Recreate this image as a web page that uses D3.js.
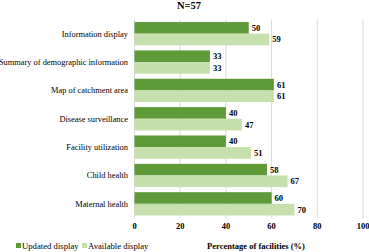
<!DOCTYPE html>
<html>
<head>
<meta charset="utf-8">
<script src="https://cdn.jsdelivr.net/npm/d3@7"></script>
<style>
  body { margin: 0; background: #fff; }
  text { font-family: "Liberation Serif", "Times New Roman", serif; fill: #000; }
</style>
</head>
<body>
<div id="chart"></div>
<script>
// data
const categories = ["Information display", "Summary of demographic information", "Map of catchment area",
  "Disease surveillance", "Facility utilization", "Child health", "Maternal health"];
const updated = [50, 33, 61, 40, 40, 58, 60];
const available = [59, 33, 61, 47, 51, 67, 70];
const seriesNames = ["Updated display", "Available display"];
const xTicks = [0, 20, 40, 60, 80, 100];

const width = 369, height = 252;
const margins = {top: 19.5, right: 6, bottom: 34, left: 134};
const colors = ["#5e9a38", "#c5e0ad"];

const svg = d3.select("#chart").append("svg")
  .attr("width", width)
  .attr("height", height);

const xScale = d3.scaleLinear()
  .domain([0, 100])
  .range([margins.left + 0.5, 363]);

const yScale = d3.scaleBand()
  .domain(categories)
  .range([margins.top, height - margins.bottom])
  .paddingInner(0.18)
  .paddingOuter(0.09);

const inner = d3.scaleBand()
  .domain(seriesNames)
  .range([0, yScale.bandwidth()]);

// gridlines
svg.selectAll("line.grid")
  .data(xTicks)
  .join("line")
  .attr("class", "grid")
  .attr("x1", d => xScale(d)).attr("x2", d => xScale(d))
  .attr("y1", margins.top).attr("y2", height - margins.bottom)
  .attr("stroke", "#d9d9d9")
  .attr("stroke-width", 1);

// title
svg.append("text")
  .attr("x", 189).attr("y", 9)
  .attr("text-anchor", "middle")
  .attr("font-size", 10.5)
  .attr("font-weight", "bold")
  .text("N=57");

const rows = categories.map((c, i) => ({c, vals: [updated[i], available[i]]}));

const groups = svg.selectAll("g.row")
  .data(rows)
  .join("g")
  .attr("class", "row")
  .attr("transform", d => `translate(0,${yScale(d.c)})`);

groups.selectAll("rect")
  .data(d => d.vals.map((v, j) => ({v, s: seriesNames[j], j})))
  .join("rect")
  .attr("x", xScale(0))
  .attr("y", d => inner(d.s))
  .attr("width", d => xScale(d.v) - xScale(0))
  .attr("height", inner.bandwidth())
  .attr("fill", d => colors[d.j]);

groups.selectAll("text.val")
  .data(d => d.vals.map((v, j) => ({v, s: seriesNames[j]})))
  .join("text")
  .attr("class", "val")
  .attr("x", d => xScale(d.v) + 3)
  .attr("y", d => inner(d.s) + inner.bandwidth() / 2)
  .attr("dy", "0.35em")
  .attr("font-size", 8.5)
  .attr("font-weight", "bold")
  .attr("fill", "#000")
  .text(d => d.v);

// category labels
svg.selectAll("text.cat")
  .data(categories)
  .join("text")
  .attr("class", "cat")
  .attr("x", 128)
  .attr("y", d => yScale(d) + yScale.bandwidth() / 2)
  .attr("dy", "0.35em")
  .attr("text-anchor", "end")
  .attr("font-size", 8.4)
  .attr("fill", "#000")
  .text(d => d);

// x tick labels
svg.selectAll("text.tick")
  .data(xTicks)
  .join("text")
  .attr("class", "tick")
  .attr("x", d => xScale(d))
  .attr("y", 226)
  .attr("dy", "0.35em")
  .attr("text-anchor", "middle")
  .attr("font-size", 8.5)
  .attr("font-weight", "bold")
  .attr("fill", "#000")
  .text(d => d);

// axis title
svg.append("text")
  .attr("x", 256).attr("y", 246)
  .attr("dy", "0.35em")
  .attr("text-anchor", "middle")
  .attr("font-size", 8.5)
  .attr("font-weight", "bold")
  .attr("fill", "#000")
  .text("Percentage of facilities (%)");

// legend
const legendX = [16, 82];
const legend = svg.selectAll("g.legend")
  .data(seriesNames)
  .join("g")
  .attr("class", "legend")
  .attr("transform", (d, i) => `translate(${legendX[i]},245.5)`);

legend.append("rect")
  .attr("x", 0).attr("y", -2.5)
  .attr("width", 5).attr("height", 5)
  .attr("fill", (d, i) => colors[i]);

legend.append("text")
  .attr("x", 6).attr("dy", "0.35em")
  .attr("font-size", 8.7)
  .attr("fill", "#000")
  .text(d => d);
</script>
</body>
</html>
